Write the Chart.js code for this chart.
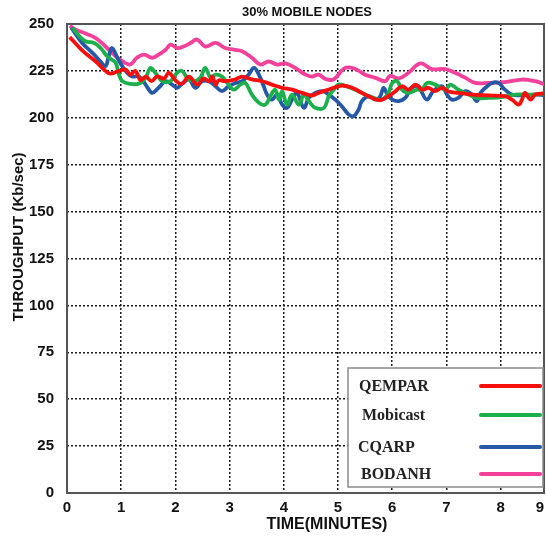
<!DOCTYPE html>
<html>
<head>
<meta charset="utf-8">
<script src="https://cdn.jsdelivr.net/npm/chart.js@4"></script>
<style>
  html, body { margin: 0; padding: 0; background: #fff; }
  #wrap { width: 546px; height: 539px; }
</style>
</head>
<body>
<div id="wrap"><canvas id="chart" width="546" height="539"></canvas></div>
<script>
// values (time in minutes, throughput in Kb/sec)
const qemparTime = [0.05,0.28,0.53,0.71,0.80,0.96,1.08,1.17,1.26,1.36,1.45,1.56,1.66,1.79,1.88,2.0,2.12,2.25,2.40,2.52,2.62,2.68,2.74,2.80,2.92,3.11,3.23,3.41,3.60,3.78,3.97,4.15,4.34,4.52,4.64,4.83,5.07,5.26,5.44,5.63,5.78,5.93,6.06,6.18,6.30,6.43,6.55,6.67,6.79,6.92,7.04,7.22,7.47,7.78,8.08,8.21,8.33,8.39,8.45,8.55,8.64,8.82];
const qemparValue = [243,236,230,225,223.5,225,225.7,223,225,220,222,219.5,222,221,224,220,218,222,217.7,221,219.5,222,217.7,220,219.5,220.5,222,220.5,219.5,217.7,216,215,213.3,211.9,213.3,215,217.2,216,213.3,210.6,209.4,211.5,214.2,216.8,215,217.7,215,216,214.2,216,214,213.3,212.4,211.9,211.5,209.7,207,209.4,213.3,209.7,212.4,213];

const mobicastTime = [0.1,0.23,0.34,0.50,0.62,0.74,0.83,0.90,0.96,1.02,1.14,1.33,1.45,1.54,1.63,1.76,1.91,2.03,2.12,2.22,2.34,2.46,2.55,2.65,2.74,2.86,2.98,3.08,3.20,3.29,3.41,3.54,3.66,3.75,3.84,3.91,3.97,4.06,4.15,4.28,4.37,4.46,4.58,4.74,4.83,4.92,5.01,5.13,5.32,5.50,5.66,5.81,5.93,6.00,6.09,6.18,6.30,6.46,6.55,6.64,6.79,6.98,7.07,7.22,7.41,7.56,7.78,8.02,8.27,8.58,8.82];
const mobicastValue = [248,243.5,240.8,239.9,237.2,232.8,231,229.3,223,219.5,218.2,218.2,221.3,226.6,224,219.5,219.5,224,225,221.3,219.5,221.3,226.6,221.3,223,222,217.7,215,217.7,218.6,212.4,208,207,211.5,215,209.7,214,207,212.4,207,212.4,208.9,205.3,205.3,211.5,215,217.7,217,215,212.4,210.6,209.7,213.3,218.6,219.5,215,213.3,215,215,218.6,217.7,215,217.7,215,212.4,210.6,210.6,211,212.4,212.4,213];

const cqarpTime = [0.08,0.28,0.47,0.62,0.71,0.77,0.83,0.93,1.02,1.11,1.20,1.33,1.45,1.57,1.69,1.82,1.94,2.03,2.14,2.25,2.37,2.49,2.62,2.74,2.86,2.98,3.11,3.23,3.35,3.45,3.54,3.63,3.69,3.78,3.88,3.97,4.06,4.15,4.24,4.37,4.46,4.58,4.71,4.83,4.95,5.07,5.20,5.29,5.38,5.44,5.57,5.69,5.78,5.84,5.91,6.00,6.12,6.24,6.36,6.49,6.55,6.64,6.76,6.92,7.01,7.10,7.22,7.35,7.47,7.56,7.63,7.72,7.84,7.96,8.08,8.21,8.39,8.64,8.82];
const cqarpValue = [248,239.9,234.6,230,227.5,232.8,237.2,232,227.5,224,222,222,217.7,213.3,216,219.5,217.7,216,218.6,220.4,216,219.5,219.5,216.8,214.2,216.8,218.6,219.5,223,226.6,223,216.8,212.4,209.7,212.4,207,205.3,209.7,213.3,205.3,210.6,213.3,214.2,212.4,209.7,206.2,201.7,200.9,204.4,208.9,211.5,209.7,211.5,216,212.4,209.7,208.9,210.6,216,216.8,213.3,209.7,214.2,216.8,212.4,209.7,210.6,214.2,212.4,208.9,213.3,216,218.6,218.6,215,212.4,212,212.4,212];

const bodanhTime = [0.05,0.16,0.34,0.53,0.71,0.90,1.05,1.17,1.29,1.42,1.57,1.69,1.82,1.91,2.03,2.15,2.28,2.40,2.55,2.74,2.92,3.08,3.23,3.41,3.57,3.72,3.88,4.03,4.21,4.40,4.52,4.64,4.77,4.92,5.13,5.32,5.50,5.69,5.87,5.96,6.12,6.30,6.52,6.73,6.98,7.16,7.35,7.53,7.78,8.08,8.39,8.64,8.82];
const bodanhValue = [249,247,245,242.5,238,232.8,229.6,228.5,232,233.7,232,233.7,236.3,239,237.2,238,239.9,241.7,238,239.9,237.2,236.3,235.5,232,228.4,230,228.4,229,226.6,223,222,223,220.7,220.5,226.6,226,223,221.3,219.5,222.3,221,224,229,226,226,224,221.3,218.6,218.6,219,220.4,219.5,217.7];

const seriesNames = ['QEMPAR', 'Mobicast', 'CQARP', 'BODANH'];
const seriesColors = ['#f5100e', '#1cb04c', '#2658a8', '#f2409b'];
const yTicks = [0, 25, 50, 75, 100, 125, 150, 175, 200, 225, 250];
const xTicks = [0, 1, 2, 3, 4, 5, 6, 7, 8, 9];
const xEnd = 8.8; // right edge of the plot, labelled "9"

const SANS = '"Liberation Sans", Arial, sans-serif';
const SERIF = '"Liberation Serif", "Times New Roman", serif';

function toPoints(times, values) {
    return times.map((t, i) => ({ x: t, y: values[i] }));
}

const seriesData = [
    toPoints(qemparTime, qemparValue),
    toPoints(mobicastTime, mobicastValue),
    toPoints(cqarpTime, cqarpValue),
    toPoints(bodanhTime, bodanhValue)
];

// frame, titles, last x label and the boxed legend
const decorations = {
    id: 'decorations',
    beforeDatasetsDraw(chart) {
        const { ctx, chartArea: a } = chart;
        ctx.save();
        ctx.strokeStyle = '#555';
        ctx.lineWidth = 2;
        ctx.strokeRect(a.left, a.top, a.right - a.left, a.bottom - a.top);
        ctx.restore();
    },
    afterDraw(chart) {
        const { ctx } = chart;
        ctx.save();
        ctx.fillStyle = '#111';
        ctx.textAlign = 'center';
        ctx.textBaseline = 'middle';

        ctx.font = 'bold 13px ' + SANS;
        ctx.fillText('30% MOBILE NODES', 307, 12);

        ctx.font = 'bold 15px ' + SANS;
        ctx.fillText(String(xTicks[xTicks.length - 1]), 540, 508);

        ctx.font = 'bold 16px ' + SANS;
        ctx.fillText('TIME(MINUTES)', 327, 525);

        ctx.font = 'bold 15px ' + SANS;
        ctx.save();
        ctx.translate(19, 237);
        ctx.rotate(-Math.PI / 2);
        ctx.fillText('THROUGHPUT (Kb/sec)', 0, 0);
        ctx.restore();

        // legend box
        const bx = 348, by = 368, bw = 195, bh = 119;
        ctx.fillStyle = '#fff';
        ctx.fillRect(bx, by, bw, bh);
        ctx.strokeStyle = '#8a8a8a';
        ctx.lineWidth = 1.5;
        ctx.strokeRect(bx, by, bw, bh);

        const rowY = [386, 415, 447, 474];
        const textX = [359, 362, 358, 361];
        ctx.font = 'bold 16px ' + SERIF;
        ctx.textAlign = 'left';
        chart.data.datasets.forEach((ds, i) => {
            ctx.fillStyle = '#222';
            ctx.fillText(ds.label, textX[i], rowY[i] + 1);
            ctx.strokeStyle = ds.borderColor;
            ctx.lineWidth = 4;
            ctx.lineCap = 'round';
            ctx.beginPath();
            ctx.moveTo(481, rowY[i]);
            ctx.lineTo(540, rowY[i]);
            ctx.stroke();
        });
        ctx.restore();
    }
};

new Chart(document.getElementById('chart'), {
    type: 'line',
    data: {
        datasets: seriesNames.map((name, i) => ({
            label: name,
            data: seriesData[i],
            borderColor: seriesColors[i],
            backgroundColor: seriesColors[i],
            borderWidth: 3.8,
            pointRadius: 0,
            tension: 0.4,
            fill: false
        }))
    },
    options: {
        responsive: false,
        animation: false,
        layout: { padding: { top: 24, right: 2, bottom: 0, left: 0 } },
        plugins: {
            legend: { display: false },
            title: { display: false },
            tooltip: { enabled: false }
        },
        scales: {
            x: {
                type: 'linear',
                min: 0,
                max: xEnd,
                afterBuildTicks: (scale) => {
                    scale.ticks = xTicks.map(v => ({ value: Math.min(v, xEnd) }));
                },
                afterFit: (scale) => {
                    scale.height = 46;
                    scale.paddingRight = 0;
                },
                grid: { color: '#1a1a1a', lineWidth: 1.5, drawTicks: false },
                border: { display: false, dash: [2, 2] },
                ticks: {
                    padding: 6,
                    color: '#111',
                    font: { family: SANS, size: 15, weight: 'bold' },
                    maxRotation: 0,
                    // the last label sits at the plot edge and is drawn by the plugin
                    callback: (v) => (v === xEnd ? '' : v)
                }
            },
            y: {
                min: 0,
                max: 250,
                afterBuildTicks: (scale) => {
                    scale.ticks = yTicks.map(v => ({ value: v }));
                },
                afterFit: (scale) => { scale.width = 67; },
                grid: { color: '#1a1a1a', lineWidth: 1.5, drawTicks: false },
                border: { display: false, dash: [2, 2] },
                ticks: {
                    padding: 13,
                    color: '#111',
                    font: { family: SANS, size: 15, weight: 'bold' }
                }
            }
        }
    },
    plugins: [decorations]
});
</script>
</body>
</html>
